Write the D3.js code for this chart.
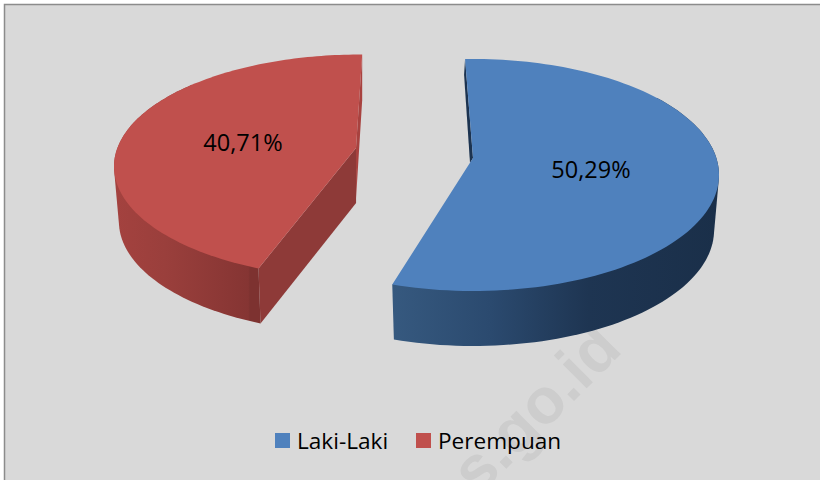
<!DOCTYPE html>
<html>
<head>
<meta charset="utf-8">
<script src="https://cdn.jsdelivr.net/npm/d3@7"></script>
<style>
html, body { margin: 0; padding: 0; background: #fff; }
svg { display: block; }
text { font-family: "Open Sans", sans-serif; fill: #000; }
</style>
</head>
<body>
<script>
const categories = ["Laki-Laki", "Perempuan"];
const values = [50.29, 40.71];
const labels = ["50,29%", "40,71%"];
const topColors = ["#4f81bd", "#c0504d"];

const svg = d3.select("body").append("svg")
    .attr("width", 820)
    .attr("height", 480);

// fond du graphique : bord en haut et à gauche seulement
svg.append("rect")
    .attr("width", 820)
    .attr("height", 480)
    .attr("fill", "#fff");
svg.append("rect")
    .attr("x", 4)
    .attr("y", 4)
    .attr("width", 816)
    .attr("height", 476)
    .attr("fill", "#d9d9d9");
svg.append("path")
    .attr("d", "M4.5,480V4.5H820")
    .attr("fill", "none")
    .attr("stroke", "#8c8c8c")
    .attr("stroke-width", 1.5);

// filigrane, sous le camembert
svg.append("text")
    .attr("transform", "translate(478,497) rotate(-45)")
    .style("font-size", "64px")
    .style("font-weight", "700")
    .style("font-family", "'Liberation Sans', sans-serif")
    .style("fill", "#cdcdcd")
    .text("s.go.id");

// position de chaque part (éclatée) : ellipse, perspective, sommet
const layout = [
    { cx: 473, cy: 175, rx: 246, ry: 116, k: 0.13, turn: -2.1, depth: 55, ax: 473, ay: 158, labelX: 591, labelY: 178 },
    { cx: 360.5, cy: 166.5, rx: 246.5, ry: 112, k: 0.23, turn: 0.5, depth: 55, ax: 356, ay: 148, labelX: 243, labelY: 151 }
];

const wallStops = [
    [[0, "#36597f"], [0.3, "#2b4a6f"], [0.6, "#1e3552"], [1, "#1a2f49"]],
    [[0, "#a4423f"], [0.35, "#9a3f3c"], [0.8, "#8a3735"], [0.93, "#853533"], [0.94, "#7d3230"], [1, "#7d3230"]]
];

const arcs = d3.pie().sort(null).value(d => d)(values);

function project(s, a) {
    const x = Math.sin(a), y = Math.cos(a);
    const den = 1 + s.k * y;
    return [
        s.cx + s.rx * x * Math.sqrt(1 - s.k * s.k) / den,
        s.cy - s.ry * (y + s.k) / den
    ];
}

// le bas de la part est un peu plus petit que le haut
function down(s, p, d) {
    return [s.cx + (p[0] - s.cx) * 0.98, p[1] + d];
}

const line = d3.line();
const defs = svg.append("defs");

function drawSlice(i) {
    const s = layout[i];
    const turn = s.turn * Math.PI / 180;
    const a0 = arcs[i].startAngle + turn;
    const a1 = arcs[i].endAngle + turn;
    const steps = d3.range(0, 121).map(t => a0 + (a1 - a0) * t / 120);
    const rim = steps.map(a => project(s, a));
    const c = [s.ax, s.ay];
    const first = rim[0], last = rim[rim.length - 1];
    const g = svg.append("g");

    // paroi extérieure
    const front = rim.filter((p, j) => Math.cos(steps[j]) < 0.6);
    const grad = defs.append("linearGradient")
        .attr("id", "wall" + i)
        .attr("gradientUnits", "userSpaceOnUse")
        .attr("x1", d3.min(front, p => p[0]))
        .attr("x2", d3.max(front, p => p[0]))
        .attr("y1", 0)
        .attr("y2", 0);
    wallStops[i].forEach(d => {
        grad.append("stop").attr("offset", d[0]).attr("stop-color", d[1]);
    });

    // parois de coupe
    if (i === 0) {
        g.append("path")
            .attr("d", line([first, [first[0] - 1, first[1] + 16], [c[0] - 3, c[1] + 5], c]) + "Z")
            .attr("fill", "#1c3350");
    } else {
        g.append("path")
            .attr("d", line([c, first, down(s, first, s.depth), down(s, c, s.depth)]) + "Z")
            .attr("fill", "#8e3a38");
        g.append("path")
            .attr("d", line([c, last, down(s, last, 46), down(s, c, 50)]) + "Z")
            .attr("fill", "#a8423f");
    }

    g.append("path")
        .attr("d", line(d3.polygonHull(front.concat(front.map(p => down(s, p, s.depth))))) + "Z")
        .attr("fill", `url(#wall${i})`);

    g.append("path")
        .attr("d", line([c].concat(rim)) + "Z")
        .attr("fill", topColors[i]);

    g.append("text")
        .attr("x", s.labelX)
        .attr("y", s.labelY)
        .attr("text-anchor", "middle")
        .style("font-size", "23.5px")
        .text(labels[i]);
}

drawSlice(0);
drawSlice(1);

// légende
const legend = svg.append("g").selectAll("g")
    .data(categories)
    .join("g")
    .attr("transform", (d, i) => `translate(${[275, 416][i]},433)`);

legend.append("rect")
    .attr("width", 15)
    .attr("height", 15)
    .attr("fill", (d, i) => topColors[i]);

legend.append("text")
    .attr("x", 22)
    .attr("y", 16)
    .style("font-size", "22.6px")
    .text(d => d);
</script>
</body>
</html>
